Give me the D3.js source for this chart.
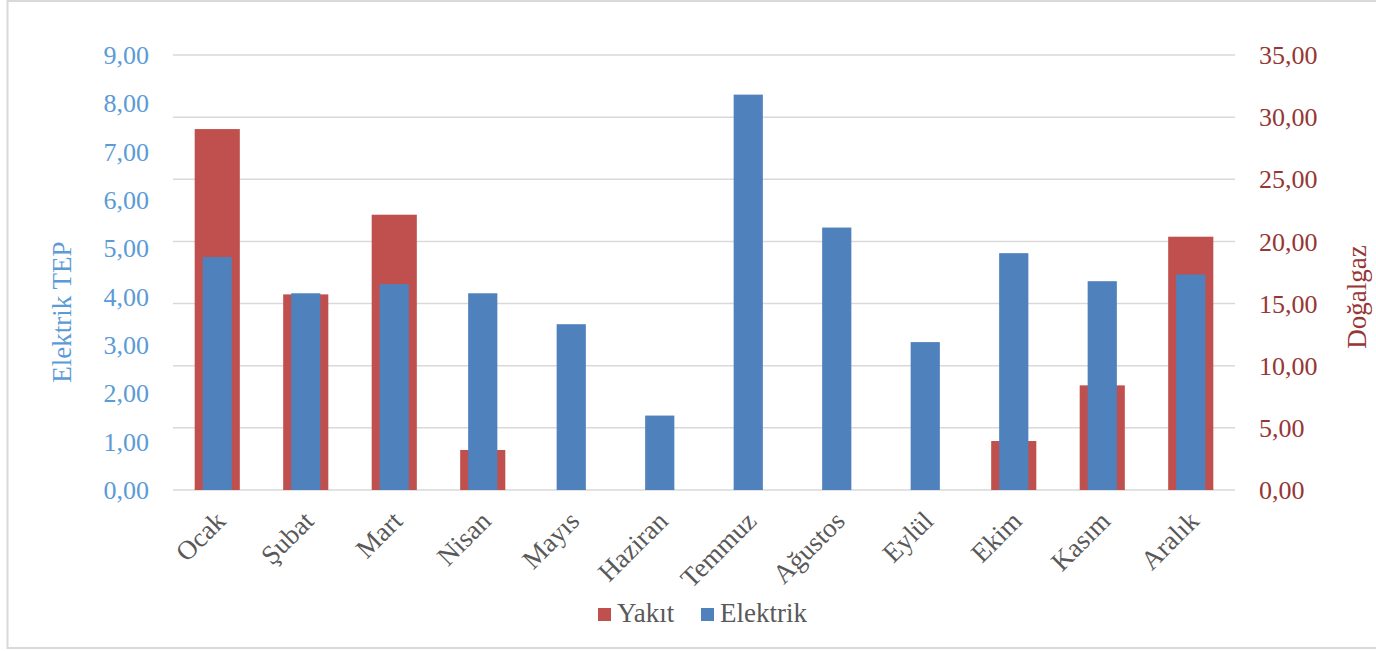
<!DOCTYPE html>
<html>
<head>
<meta charset="utf-8">
<script src="https://cdn.jsdelivr.net/npm/d3@7"></script>
<style>
  body { margin: 0; background: #fff; }
  text { font-family: "Liberation Serif", "Times New Roman", serif; }
</style>
</head>
<body>
<div id="chart"></div>
<script>
const months = ["Ocak", "Şubat", "Mart", "Nisan", "Mayıs", "Haziran", "Temmuz", "Ağustos", "Eylül", "Ekim", "Kasım", "Aralık"];
const elektrik = [4.82, 4.07, 4.26, 4.07, 3.43, 1.54, 8.18, 5.43, 3.06, 4.90, 4.32, 4.46];
const yakit = [29.04, 15.74, 22.15, 3.22, 0, 0, 0, 0, 0, 3.94, 8.42, 20.38];
const leftTicks = [0, 1, 2, 3, 4, 5, 6, 7, 8, 9];
const rightTicks = [0, 5, 10, 15, 20, 25, 30, 35];

const width = 1376;
const height = 651;
const margin = { top: 55, right: 141, bottom: 161, left: 173 };

const fmt = v => v.toFixed(2).replace(".", ",");

const svg = d3.select("#chart")
  .append("svg")
  .attr("width", width)
  .attr("height", height);

// outer frame
svg.append("rect")
  .attr("x", 7.5)
  .attr("y", 1)
  .attr("width", width)
  .attr("height", 647)
  .attr("fill", "none")
  .attr("stroke", "#d9d9d9")
  .attr("stroke-width", 2);

const x = d3.scaleBand()
  .domain(months)
  .range([margin.left, width - margin.right]);

const yLeft = d3.scaleLinear()
  .domain([0, 9])
  .range([height - margin.bottom, margin.top]);

const yRight = d3.scaleLinear()
  .domain([0, 35])
  .range([height - margin.bottom, margin.top]);

// gridlines (right axis)
svg.append("g")
  .selectAll("line")
  .data(rightTicks)
  .join("line")
  .attr("x1", margin.left)
  .attr("x2", width - margin.right)
  .attr("y1", d => yRight(d))
  .attr("y2", d => yRight(d))
  .attr("stroke", "#d9d9d9")
  .attr("stroke-width", 1.5);

// left tick labels
svg.append("g")
  .selectAll("text")
  .data(leftTicks)
  .join("text")
  .attr("x", 149)
  .attr("y", d => yLeft(d))
  .attr("dy", "0.35em")
  .attr("text-anchor", "end")
  .attr("font-size", 26)
  .attr("fill", "#5b9bd5")
  .text(fmt);

// right tick labels
svg.append("g")
  .selectAll("text")
  .data(rightTicks)
  .join("text")
  .attr("x", 1259)
  .attr("y", d => yRight(d))
  .attr("dy", "0.35em")
  .attr("text-anchor", "start")
  .attr("font-size", 26)
  .attr("fill", "#953735")
  .text(fmt);

// axis titles
svg.append("text")
  .attr("transform", "translate(71, 312) rotate(-90)")
  .attr("text-anchor", "middle")
  .attr("font-size", 27)
  .attr("fill", "#5b9bd5")
  .text("Elektrik  TEP");

svg.append("text")
  .attr("transform", "translate(1366, 297) rotate(-90)")
  .attr("text-anchor", "middle")
  .attr("font-size", 27)
  .attr("fill", "#953735")
  .text("Doğalgaz");

// Yakıt bars (right axis)
const yw = x.bandwidth() * 0.51;
svg.append("g")
  .selectAll("rect")
  .data(months.map((m, i) => ({ m, v: yakit[i] })).filter(d => d.v > 0))
  .join("rect")
  .attr("x", d => x(d.m) + x.bandwidth() / 2 - yw / 2)
  .attr("y", d => yRight(d.v))
  .attr("width", yw)
  .attr("height", d => yRight(0) - yRight(d.v))
  .attr("fill", "#c0504d");

// Elektrik bars (left axis)
const ew = x.bandwidth() * 0.33;
svg.append("g")
  .selectAll("rect")
  .data(months.map((m, i) => ({ m, v: elektrik[i] })))
  .join("rect")
  .attr("x", d => x(d.m) + x.bandwidth() / 2 - ew / 2)
  .attr("y", d => yLeft(d.v))
  .attr("width", ew)
  .attr("height", d => yLeft(0) - yLeft(d.v))
  .attr("fill", "#4f81bd");

// month labels
svg.append("g")
  .selectAll("text")
  .data(months)
  .join("text")
  .attr("transform", d => `translate(${x(d) + x.bandwidth() / 2 + 3}, 516) rotate(-45)`)
  .attr("dy", "0.35em")
  .attr("text-anchor", "end")
  .attr("font-size", 27)
  .attr("fill", "#595959")
  .text(d => d);

// legend
const legendItems = [
  { name: "Yakıt", color: "#c0504d", x: 598 },
  { name: "Elektrik", color: "#4f81bd", x: 701 }
];
const lg = svg.append("g")
  .selectAll("g")
  .data(legendItems)
  .join("g")
  .attr("transform", d => `translate(${d.x}, 608)`);
lg.append("rect")
  .attr("width", 13)
  .attr("height", 13)
  .attr("fill", d => d.color);
lg.append("text")
  .attr("x", 19)
  .attr("y", 14)
  .attr("font-size", 27)
  .attr("fill", "#595959")
  .text(d => d.name);
</script>
</body>
</html>
